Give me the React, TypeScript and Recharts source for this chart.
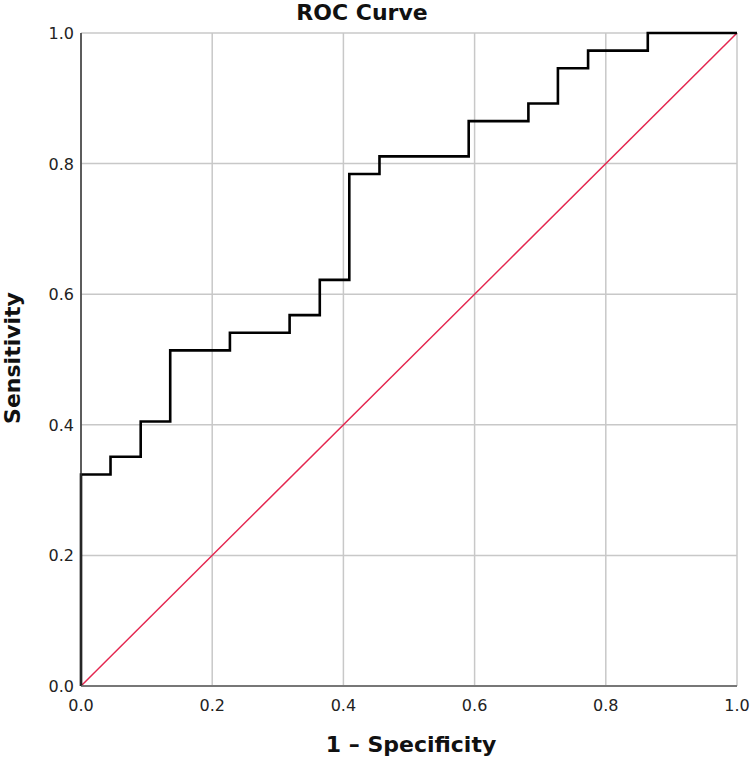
import { LineChart, Line, XAxis, YAxis, CartesianGrid } from 'recharts';

// ROC curve corners (1 - specificity, sensitivity)
const rocFpr = [0, 0, 0.045, 0.091, 0.136, 0.227, 0.318, 0.364, 0.409, 0.455, 0.591, 0.682, 0.727, 0.773, 0.864, 1.0];
const rocTpr = [0, 0.324, 0.351, 0.405, 0.514, 0.541, 0.568, 0.622, 0.784, 0.811, 0.865, 0.892, 0.946, 0.973, 1.0, 1.0];

// reference diagonal
const diagFpr = [0, 1];
const diagTpr = [0, 1];

const axisTicks = [0, 0.2, 0.4, 0.6, 0.8, 1.0];

const rocData = rocFpr.map((fpr, i) => ({ fpr, tpr: rocTpr[i] }));
const diagData = diagFpr.map((fpr, i) => ({ fpr, tpr: diagTpr[i] }));

const labelFont = 'DejaVu Sans';

// plain svg tick so the font size is exactly what we ask for
const XTick = ({ x, y, payload }: any) => (
    <text x={x} y={y + 17} textAnchor="middle" fontFamily={labelFont} fontSize={16} fill="#222">
        {Number(payload.value).toFixed(1)}
    </text>
);

const YTick = ({ x, y, payload }: any) => (
    <text x={x + 1} y={y + 6} textAnchor="end" fontFamily={labelFont} fontSize={16} fill="#222">
        {Number(payload.value).toFixed(1)}
    </text>
);

export default function App() {
    return (
        <div style={{ position: 'absolute', left: 0, top: 0, width: 750, height: 766, background: '#fff' }}>
            <LineChart width={750} height={766} margin={{ top: 33, right: 13, bottom: 0, left: 0 }}>
                <CartesianGrid stroke="#c8c8c8" strokeWidth={1.5} />
                <XAxis
                    dataKey="fpr"
                    type="number"
                    domain={[0, 1]}
                    ticks={axisTicks}
                    tick={<XTick />}
                    tickLine={false}
                    axisLine={{ stroke: '#777', strokeWidth: 2 }}
                    height={80}
                    allowDuplicatedCategory={false}
                />
                <YAxis
                    dataKey="tpr"
                    type="number"
                    domain={[0, 1]}
                    ticks={axisTicks}
                    tick={<YTick />}
                    tickLine={false}
                    axisLine={{ stroke: '#333', strokeWidth: 1.5 }}
                    width={81}
                />
                <Line
                    data={diagData}
                    dataKey="tpr"
                    type="linear"
                    stroke="#e4264f"
                    strokeWidth={1.5}
                    dot={false}
                    isAnimationActive={false}
                />
                <Line
                    data={rocData}
                    dataKey="tpr"
                    type="stepAfter"
                    stroke="#000"
                    strokeWidth={2.6}
                    strokeLinejoin="miter"
                    dot={false}
                    isAnimationActive={false}
                />
            </LineChart>
            <svg
                width={750}
                height={766}
                style={{ position: 'absolute', left: 0, top: 0, pointerEvents: 'none' }}
            >
                <text x={362} y={20} textAnchor="middle" fontFamily={labelFont} fontWeight="bold" fontSize={22} fill="#111">
                    ROC Curve
                </text>
                <text x={411} y={752} textAnchor="middle" fontFamily={labelFont} fontWeight="bold" fontSize={22} fill="#111">
                    1 – Specificity
                </text>
                <text
                    x={20}
                    y={358}
                    textAnchor="middle"
                    transform="rotate(-90 20 358)"
                    fontFamily={labelFont}
                    fontWeight="bold"
                    fontSize={22}
                    fill="#111"
                >
                    Sensitivity
                </text>
            </svg>
        </div>
    );
}
